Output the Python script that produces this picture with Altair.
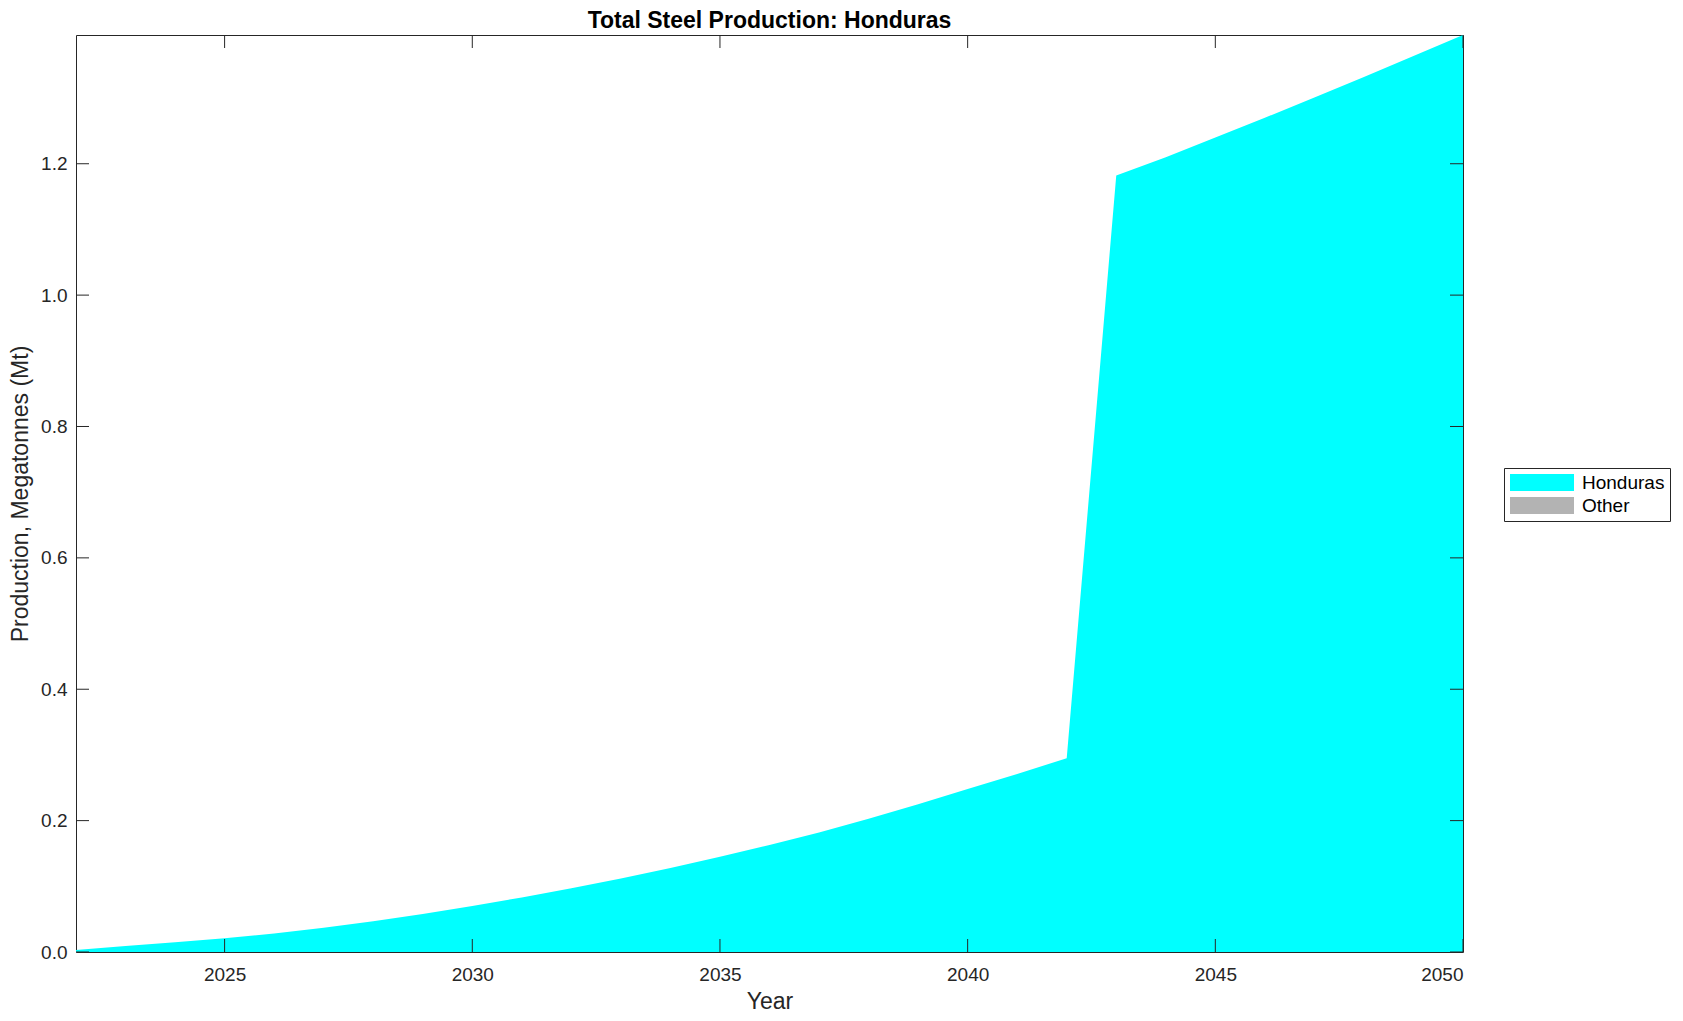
import altair as alt
import pandas as pd

# ---- data ----
years = list(range(2022, 2051))
honduras = [0.003, 0.009, 0.015, 0.021, 0.028, 0.037, 0.047, 0.058, 0.070, 0.083,
            0.097, 0.112, 0.128, 0.145, 0.163, 0.182, 0.203, 0.225, 0.248, 0.271,
            0.295, 1.182, 1.210, 1.240, 1.270, 1.301, 1.332, 1.364, 1.396]
other = [0.0, 0.0, 0.0, 0.0, 0.0, 0.0, 0.0, 0.0, 0.0, 0.0,
         0.0, 0.0, 0.0, 0.0, 0.0, 0.0, 0.0, 0.0, 0.0, 0.0,
         0.0, 0.0, 0.0, 0.0, 0.0, 0.0, 0.0, 0.0, 0.0]
series_names = ["Honduras", "Other"]
series_colors = ["#00FFFF", "#B3B3B3"]
x_ticks = [2025, 2030, 2035, 2040, 2045, 2050]
y_ticks = [0.0, 0.2, 0.4, 0.6, 0.8, 1.0, 1.2]
x_domain = [2022, 2050]
y_domain = [0, 1.396]

W, H = 1387, 917
TICK = 13
FONT = "Liberation Sans"
INK = "#262626"

rows = []
for i, y in enumerate(years):
    rows.append({"year": y, "region": "Honduras", "order": 0, "value": honduras[i]})
    rows.append({"year": y, "region": "Other", "order": 1, "value": other[i]})
df = pd.DataFrame(rows)
xt = pd.DataFrame({"year": x_ticks})
yt = pd.DataFrame({"value": y_ticks})

xscale = alt.Scale(domain=x_domain, nice=False, zero=False)
yscale = alt.Scale(domain=y_domain, nice=False)

xaxis = alt.Axis(values=x_ticks, format="d", ticks=False, domain=False, grid=False,
                 labelFontSize=19, labelFont=FONT, labelColor=INK, labelPadding=13,
                 titleFontSize=23, titleFont=FONT, titleColor=INK, titleFontWeight="normal",
                 titlePadding=6)
yaxis = alt.Axis(values=y_ticks, format=".1f", ticks=False, domain=False, grid=False,
                 labelFontSize=19, labelFont=FONT, labelColor=INK, labelPadding=9,
                 titleFontSize=23, titleFont=FONT, titleColor=INK, titleFontWeight="normal",
                 titlePadding=8)
XT = "Year"
YT = "Production, Megatonnes (Mt)"

area = alt.Chart(df).mark_area(interpolate="linear", opacity=1, strokeWidth=0).encode(
    x=alt.X("year:Q", scale=xscale, title=XT, axis=xaxis),
    y=alt.Y("value:Q", scale=yscale, stack="zero", title=YT, axis=yaxis),
    color=alt.Color("region:N", scale=alt.Scale(domain=series_names, range=series_colors),
                    legend=alt.Legend(title=None, orient="none", legendX=1428, legendY=433,
                                      symbolType="M-1,-1H6.53V1H-1Z", symbolSize=289,
                                      symbolStrokeWidth=0, symbolOpacity=1,
                                      labelFontSize=19, labelFont=FONT, labelColor="black",
                                      labelOffset=54, rowPadding=3, padding=5,
                                      strokeColor=INK, fillColor="white", cornerRadius=0)),
    order=alt.Order("order:Q"),
)

bottom_ticks = alt.Chart(xt).mark_rule(color=INK, strokeWidth=1).encode(
    x=alt.X("year:Q", scale=xscale, title=XT, axis=xaxis), y=alt.value(H), y2=alt.value(H - TICK))
top_ticks = alt.Chart(xt).mark_rule(color=INK, strokeWidth=1).encode(
    x=alt.X("year:Q", scale=xscale, title=XT, axis=xaxis), y=alt.value(0), y2=alt.value(TICK))
left_ticks = alt.Chart(yt).mark_rule(color=INK, strokeWidth=1).encode(
    y=alt.Y("value:Q", scale=yscale, title=YT, axis=yaxis), x=alt.value(0), x2=alt.value(TICK))
right_ticks = alt.Chart(yt).mark_rule(color=INK, strokeWidth=1).encode(
    y=alt.Y("value:Q", scale=yscale, title=YT, axis=yaxis), x=alt.value(W - TICK), x2=alt.value(W))

chart = alt.layer(area, bottom_ticks, top_ticks, left_ticks, right_ticks).properties(
    width=W, height=H,
    title=alt.Title("Total Steel Production: Honduras", fontSize=23, font=FONT,
                    fontWeight="bold", color="black", offset=2, anchor="middle"),
    autosize=alt.AutoSizeParams(type="none"),
    padding={"left": 68, "top": 27, "right": 210, "bottom": 66},
    background="white",
).configure_view(stroke=INK, strokeWidth=1)

chart.save("out.html", embed_options={"renderer": "svg", "actions": False})
